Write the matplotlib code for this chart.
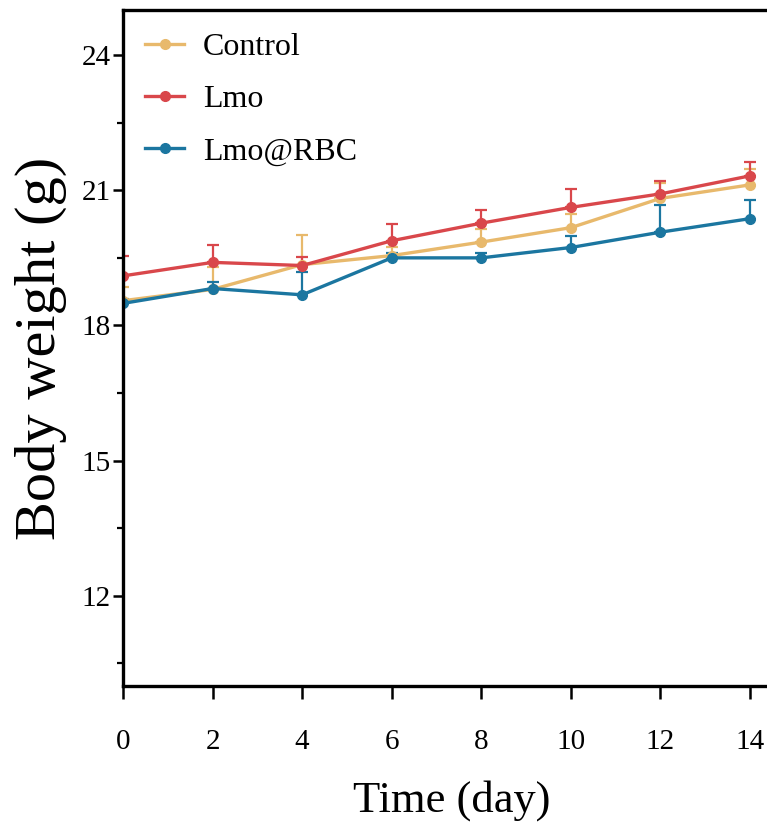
import matplotlib.pyplot as plt
import numpy as np
from matplotlib.lines import Line2D

plt.rcParams['font.family'] = ['Liberation Serif', 'DejaVu Serif']

days = [0, 2, 4, 6, 8, 10, 12, 14]

control = [18.55, 18.8, 19.35, 19.55, 19.85, 20.17, 20.82, 21.12]
control_err = [0.3, 0.5, 0.65, 0.2, 0.3, 0.3, 0.35, 0.35]

lmo = [19.1, 19.4, 19.33, 19.88, 20.27, 20.62, 20.92, 21.32]
lmo_err = [0.45, 0.38, 0.2, 0.38, 0.3, 0.4, 0.28, 0.3]

lmo_rbc = [18.49, 18.82, 18.68, 19.5, 19.5, 19.73, 20.07, 20.37]
lmo_rbc_err = [0.1, 0.15, 0.5, 0.1, 0.1, 0.25, 0.6, 0.42]

series = [
    ('Control', control, control_err, '#e8b96c'),
    ('Lmo', lmo, lmo_err, '#d9474b'),
    ('Lmo@RBC', lmo_rbc, lmo_rbc_err, '#1b76a0'),
]

fig = plt.figure(figsize=(7.67, 8.30), dpi=100)
ax = fig.add_axes([123 / 767, 1 - 686 / 830, 657 / 767, 676 / 830])

handles = []
for name, vals, err, col in series:
    up = np.array(err)
    ax.errorbar(days, vals, yerr=[np.zeros_like(up), up], color=col,
                lw=2.4, marker='o', ms=7, elinewidth=1.6, capsize=4,
                capthick=1.6)
    handles.append(Line2D([], [], color=col, lw=2.4, marker='o', ms=7,
                          label=name))

ax.set_xlim(0, 14.67)
ax.set_ylim(10, 25)
ax.set_xticks(days)
ax.set_yticks([12, 15, 18, 21, 24])
ax.set_yticks([10.5, 13.5, 16.5, 19.5, 22.5], minor=True)

for s in ax.spines.values():
    s.set_linewidth(2.4)
ax.spines['right'].set_visible(False)
ax.tick_params(axis='x', length=9, width=1.8, labelsize=21, pad=22)
ax.tick_params(axis='y', length=7, width=1.8, labelsize=21, pad=2)
ax.tick_params(axis='y', which='minor', length=4, width=1.6)

ax.set_xlabel('Time (day)', fontsize=32, labelpad=18)
ax.set_ylabel('Body weight (g)', fontsize=42, labelpad=10)

ax.legend(handles=handles, loc='upper left', frameon=False, fontsize=23,
          handlelength=1.2, handletextpad=0.6, labelspacing=0.72,
          borderaxespad=0.3, bbox_to_anchor=(0.0, 1.0))

fig.savefig('out.png', dpi=100)
